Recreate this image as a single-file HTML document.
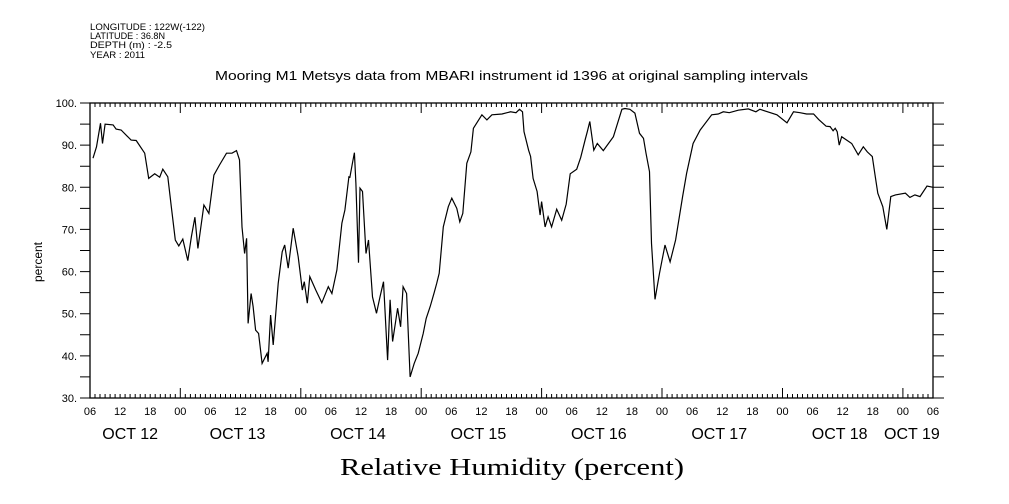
<!DOCTYPE html>
<html><head><meta charset="utf-8"><style>
body{margin:0;background:#fff}
svg{display:block;font-family:"Liberation Sans",sans-serif}
</style></head><body>
<svg id="chart" width="1009" height="504">
<g font-size="9" fill="#000">
<text x="90" y="30" textLength="115" lengthAdjust="spacingAndGlyphs">LONGITUDE : 122W(-122)</text>
<text x="90" y="39" textLength="75" lengthAdjust="spacingAndGlyphs">LATITUDE : 36.8N</text>
<text x="90" y="48" textLength="82" lengthAdjust="spacingAndGlyphs">DEPTH (m) : -2.5</text>
<text x="90" y="58" textLength="55" lengthAdjust="spacingAndGlyphs">YEAR : 2011</text>
</g>
<text x="215" y="80" textLength="593" lengthAdjust="spacingAndGlyphs" font-size="13">Mooring M1 Metsys data from MBARI instrument id 1396 at original sampling intervals</text>
<text transform="translate(42,262) rotate(-90)" text-anchor="middle" font-size="12">percent</text>
<text x="340" y="475" textLength="344" lengthAdjust="spacingAndGlyphs" font-family="Liberation Serif, serif" font-size="24">Relative Humidity (percent)</text>
<g id="axes"></g>
<g id="series"></g>
</svg>
<script>
const hours=[0.6,1.3,2.1,2.5,3.0,4.6,5.2,6.2,8.2,9.2,10.9,11.7,12.9,13.9,14.5,15.5,16.2,17.0,17.7,18.5,19.5,20.2,20.9,21.5,22.7,23.7,24.7,25.8,27.2,28.3,29.2,29.8,30.3,30.8,31.2,31.5,32.1,32.5,33.0,33.6,34.3,35.3,35.5,36.0,36.5,37.5,38.3,38.8,39.5,40.5,41.5,42.3,42.7,43.3,43.8,45.0,46.2,47.5,48.2,49.2,50.2,50.8,51.6,51.8,52.3,52.7,53.0,53.5,53.8,54.3,55.0,55.5,56.3,57.1,57.8,58.5,59.3,59.8,60.3,60.9,61.3,61.9,62.4,63.1,63.8,64.6,65.4,66.4,67.0,67.8,68.6,69.1,69.6,70.4,71.4,72.1,73.1,73.7,74.3,75.1,75.9,76.4,78.1,79.1,80.1,82.1,83.8,84.9,85.6,86.2,86.5,87.4,87.8,88.3,89.1,89.7,90.0,90.7,91.3,92.0,93.0,94.0,94.9,95.7,97.0,97.8,98.7,99.1,99.6,100.4,101.1,102.3,104.3,106.0,106.6,107.6,108.6,109.5,110.3,110.8,111.5,111.9,112.6,113.5,114.6,115.6,116.7,118.1,118.9,120.2,121.6,123.9,125.2,126.2,127.4,129.2,131.2,132.7,133.5,136.9,138.9,140.2,141.5,142.8,144.2,145.2,146.7,147.5,148.1,148.5,148.9,149.3,149.8,151.8,153.1,154.1,154.9,155.9,156.5,157.0,158.0,158.8,159.6,160.5,162.5,163.4,164.4,165.4,166.8,168.0];
const humidity=[86.9,89.6,95.2,90.4,95.0,94.8,93.8,93.6,91.2,91.1,88.1,82.1,83.2,82.4,84.3,82.5,75.4,67.5,66.1,67.7,62.6,68.3,72.9,65.5,75.8,73.8,82.9,85.3,88.1,88.1,88.7,86.5,70.6,64.3,67.9,47.7,54.8,51.7,46.1,45.3,38.2,40.6,38.6,49.7,42.6,57.2,64.7,66.3,60.8,70.3,63.5,55.6,57.6,52.5,58.8,55.6,52.6,56.4,54.8,60.4,71.5,74.6,82.5,82.4,85.7,88.2,80.9,62.1,79.8,79.0,64.3,67.5,54.0,50.1,54.0,57.6,39.0,53.3,43.4,48.1,51.3,46.9,56.4,54.8,35.0,38.2,40.6,45.3,48.9,51.7,55.0,57.2,59.6,70.6,75.4,77.4,75.0,71.8,73.8,85.7,88.4,94.0,97.2,96.0,97.2,97.4,97.9,97.7,98.5,97.9,93.2,88.8,87.3,82.1,79.0,73.4,76.6,70.6,73.0,70.6,74.8,72.2,76.0,83.2,84.3,87.1,91.4,93.2,95.6,88.8,90.4,88.7,92.0,98.5,98.7,98.5,97.6,92.8,91.6,88.1,83.7,66.7,53.4,59.6,66.3,62.3,67.5,77.8,83.3,90.4,93.6,97.2,97.4,97.9,97.7,98.3,98.6,97.9,98.5,97.2,95.3,97.9,97.7,97.4,97.4,96.1,94.5,94.4,93.4,94.0,93.2,90.0,92.0,90.4,87.7,89.6,88.4,87.3,82.5,78.6,75.4,70.0,77.8,78.2,78.6,77.6,78.2,77.8,80.3,80.0,81.6,84.3,84.9];
const yTicks=[30,40,50,60,70,80,90,100];
const hourLabels=["06","12","18","00"];
const dayLabels=["OCT 12","OCT 13","OCT 14","OCT 15","OCT 16","OCT 17","OCT 18","OCT 19"];
const dayLabelHours=[8,29.4,53.4,77.4,101.4,125.4,149.4,163.8];

const X0=90,X1=933,Y0=398,Y1=103,HMAX=168,VMIN=30,VMAX=100;
const sx=h=>X0+(h/HMAX)*(X1-X0);
const sy=v=>Y0-(v-VMIN)/(VMAX-VMIN)*(Y0-Y1);
const NS="http://www.w3.org/2000/svg";
const axes=document.getElementById('axes');
function mk(tag,attrs,parent){const e=document.createElementNS(NS,tag);for(const k in attrs)e.setAttribute(k,attrs[k]);parent.appendChild(e);return e;}

const frame=mk('rect',{x:X0,y:Y1,width:X1-X0,height:Y0-Y1,fill:'none',stroke:'#000','stroke-width':1.3},axes);



let d='';
for(let h=0;h<=HMAX;h++){
  const x=sx(h).toFixed(1);
  const len=((h+6)%24===0)?10:4;
  d+=`M${x},${Y0}V${Y0-len}M${x},${Y1}V${Y1+len}`;
}
for(let v=VMIN;v<=VMAX;v+=5){
  const y=sy(v).toFixed(1);
  d+=`M${X0-10},${y}H${X0}M${X1},${y}H${X1+11}`;
}
const ticks=mk('path',{d:d,stroke:'#000','stroke-width':1,fill:'none'},axes);



yTicks.forEach(v=>{
  const t=mk('text',{x:X0-13,y:sy(v)+4,'text-anchor':'end','font-size':11},axes);
  t.textContent=v+'.';
  
  
});
for(let h=0;h<=HMAX;h+=6){
  const t=mk('text',{x:sx(h),y:415,'text-anchor':'middle','font-size':11},axes);
  t.textContent=hourLabels[(h/6)%4];
  
  
}
dayLabels.forEach((lab,i)=>{
  const t=mk('text',{x:sx(dayLabelHours[i]),y:439,'text-anchor':'middle','font-size':16},axes);
  t.textContent=lab;
  
  
});

const pts=hours.map((h,i)=>sx(h).toFixed(1)+','+sy(humidity[i]).toFixed(1)).join(' ');
const line=mk('polyline',{points:pts,fill:'none',stroke:'#000','stroke-width':1.2},document.getElementById('series'));


</script>
</body></html>
